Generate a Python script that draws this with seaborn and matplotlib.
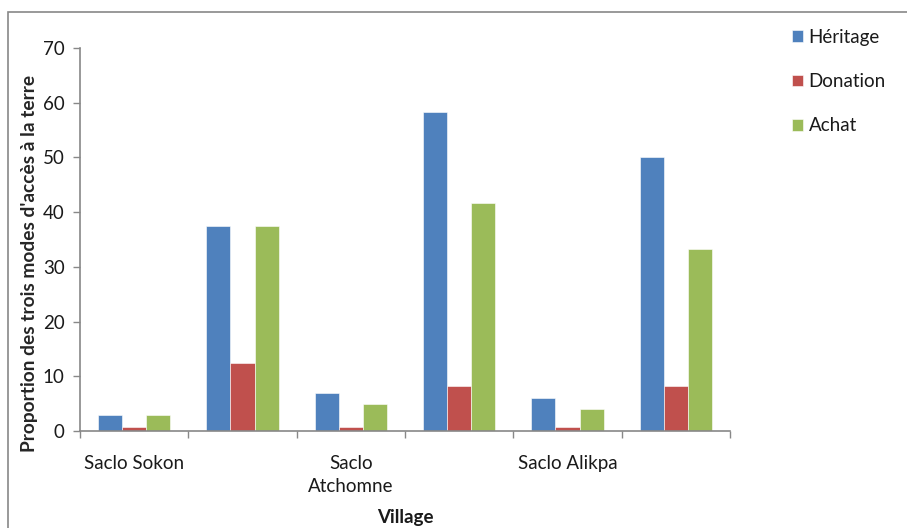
import matplotlib
matplotlib.use("Agg")
import matplotlib.pyplot as plt
import seaborn as sns
import pandas as pd
from matplotlib.patches import Rectangle

# ---- data ----
groups = ["G1", "G2", "G3", "G4", "G5", "G6"]
tick_labels = ["Saclo Sokon", "", "Saclo\nAtchomne", "", "Saclo Alikpa", ""]
modes = ["Héritage", "Donation", "Achat"]
heritage = [3, 37.5, 7, 58.3, 6, 50]
donation = [0.8, 12.5, 0.8, 8.3, 0.8, 8.3]
achat = [3, 37.5, 5, 41.7, 4, 33.3]
colors = ["#4F81BD", "#C0504D", "#9BBB59"]

rows = []
for mode, vals in zip(modes, [heritage, donation, achat]):
    for g, v in zip(groups, vals):
        rows.append({"groupe": g, "mode": mode, "valeur": v})
df = pd.DataFrame(rows)

sns.set_style("white")
plt.rcParams["font.family"] = ["Lato", "DejaVu Sans"]
plt.rcParams["text.color"] = "#1a1a1a"

FS = 13.5

fig = plt.figure(figsize=(9.07, 5.28), dpi=100)
ax = fig.add_axes([80 / 907, 1 - 431 / 528, 650 / 907, 383 / 528])

sns.barplot(data=df, x="groupe", y="valeur", hue="mode", order=groups,
            hue_order=modes, palette=colors, width=0.665, gap=0,
            saturation=1, ax=ax, edgecolor="white", linewidth=0.4)

ax.set_xlim(-0.5, 5.5)
ax.set_ylim(0, 70)
ax.set_yticks(range(0, 71, 10))
ax.tick_params(axis="y", labelsize=FS, length=5, width=1, color="#888888",
               direction="out", left=True, pad=6, labelcolor="#1a1a1a")

# major ticks at group boundaries (marks only), minor ticks with labels
ax.set_xticks([i - 0.5 for i in range(7)])
ax.set_xticklabels([""] * 7)
ax.set_xticks(range(6), minor=True)
ax.set_xticklabels(tick_labels, minor=True, fontsize=FS, color="#1a1a1a",
                   linespacing=1.45)
ax.tick_params(axis="x", which="major", length=5, width=1, color="#888888",
               direction="out", bottom=True)
ax.tick_params(axis="x", which="minor", length=0, pad=17)

for s in ["top", "right"]:
    ax.spines[s].set_visible(False)
for s in ["left", "bottom"]:
    ax.spines[s].set_color("#888888")
    ax.spines[s].set_linewidth(1.2)

ax.set_xlabel("")
ax.set_ylabel("Proportion des trois modes d'accès à la terre",
              fontsize=FS + 0.3, fontweight="bold")
ax.yaxis.set_label_coords((38 - 80) / 650, (431 - 263) / 383)
fig.text(405 / 907, 1 - 518 / 528, "Village", ha="center", va="center",
         fontsize=FS, fontweight="bold")

ax.get_legend().remove()
handles, labels = ax.get_legend_handles_labels()
fig.legend(handles, labels, loc="upper left",
           bbox_to_anchor=(775 / 907, 1 - 12 / 528), frameon=False,
           fontsize=FS, handlelength=0.6, handleheight=0.6,
           handletextpad=0.3, labelspacing=1.45)

# outer chart border (cut off at right and bottom)
fig.patches.append(Rectangle((8 / 907, -0.05), 1.2, 1.05 - 12 / 528,
                             transform=fig.transFigure, fill=False,
                             edgecolor="#888888", linewidth=1.2))

fig.savefig("out.png", dpi=100)
